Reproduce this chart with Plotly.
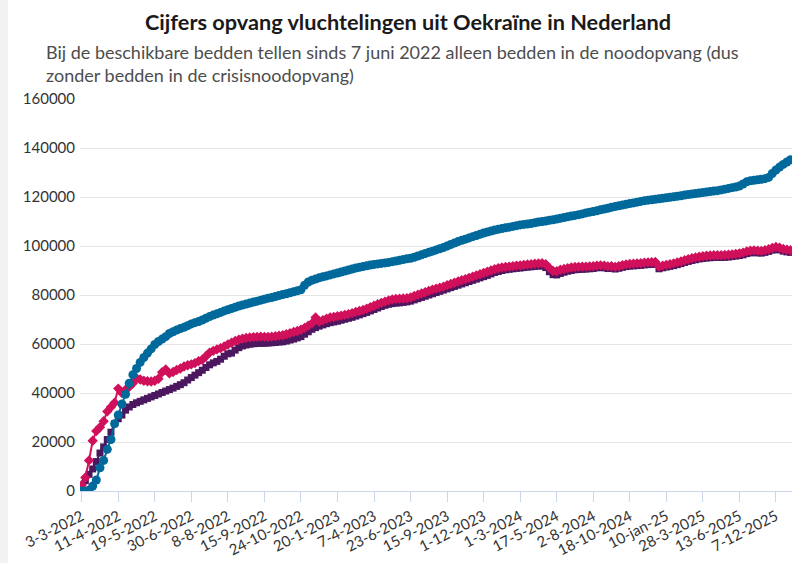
import plotly.graph_objects as go

tick_labels = ["3-3-2022", "11-4-2022", "19-5-2022", "30-6-2022", "8-8-2022", "15-9-2022",
               "24-10-2022", "20-1-2023", "7-4-2023", "23-6-2023", "15-9-2023", "1-12-2023",
               "1-3-2024", "17-5-2024", "2-8-2024", "18-10-2024", "10-jan-25", "28-3-2025",
               "13-6-2025", "7-12-2025"]
obs_per_label = 10

geregistreerd = [
    0, 0, 300, 2000, 4500, 9500, 12500, 17000, 21000, 27500,
    31000, 35500, 39500, 44000, 47500, 50000, 52500, 54500, 56300, 58000,
    59800, 61000, 62000, 63000, 64300, 65000, 65700, 66300, 66800, 67500,
    68200, 68700, 69200, 69800, 70500, 71200, 71800, 72300, 72900, 73500,
    74000, 74500, 75000, 75500, 75900, 76300, 76700, 77100, 77500, 77900,
    78300, 78700, 79000, 79400, 79800, 80200, 80500, 80900, 81300, 81700,
    82100, 84000, 85300, 86000, 86500, 87000, 87400, 87800, 88200, 88600,
    89000, 89400, 89800, 90200, 90600, 91000, 91300, 91600, 91900, 92200,
    92500, 92700, 92900, 93100, 93300, 93600, 93900, 94200, 94500, 94800,
    95000, 95400, 95900, 96400, 96900, 97400, 97900, 98400, 98900, 99400,
    100000, 100600, 101200, 101800, 102300, 102800, 103300, 103800, 104300, 104800,
    105300, 105700, 106100, 106500, 106800, 107100, 107400, 107700, 108000, 108300,
    108600, 108800, 109000, 109200, 109500, 109800, 110000, 110200, 110500, 110700,
    111000, 111300, 111600, 111900, 112200, 112500, 112800, 113100, 113500, 113800,
    114100, 114400, 114800, 115100, 115400, 115800, 116100, 116400, 116700, 117000,
    117300, 117600, 117900, 118200, 118500, 118700, 118900, 119100, 119300, 119500,
    119700, 119900, 120100, 120300, 120500, 120800, 121000, 121200, 121400, 121600,
    121800, 122000, 122200, 122400, 122600, 122900, 123200, 123500, 123800, 124100,
    124500, 125300, 126200, 126600, 126800, 127000, 127200, 127500, 128000, 129600,
    131000, 132200, 133300, 134300, 135200]

beschikbaar = [
    2500, 5500, 12500, 20500, 24500, 26000, 28500, 32500, 34300, 36000,
    41800, 40000, 41300, 42500, 44000, 46000, 45500, 45000, 44800, 44700,
    45000, 45800, 48500, 49600, 48000, 48600, 49400, 50000, 50800, 51300,
    51700, 52200, 53000, 53600, 55000, 56500, 57200, 57800, 58300, 59000,
    59800, 60500, 61200, 61800, 62200, 62500, 62700, 62800, 62900, 63000,
    62900, 62900, 63000, 63200, 63400, 63600, 64000, 64400, 64900, 65300,
    65800, 66600, 67500, 68400, 70800, 69200, 69700, 70300, 70800, 71000,
    71300, 71600, 71900, 72200, 72600, 73100, 73500, 73900, 74400, 75000,
    75600, 76200, 76800, 77300, 77800, 78200, 78400, 78500, 78600, 78700,
    79000, 79600, 80100, 80600, 81100, 81700, 82200, 82600, 83000, 83400,
    84000, 84500, 85000, 85500, 86000, 86500, 87000, 87500, 88000, 88500,
    89000, 89500, 90000, 90500, 90900, 91200, 91400, 91600, 91800, 92000,
    92100, 92300, 92500, 92600, 92800, 92900, 93000, 92600, 91000, 89800,
    89700, 90300, 90600, 90900, 91200, 91400, 91500, 91600, 91600, 91700,
    91800, 92000, 92100, 92000, 91700, 91800, 91500, 91800, 92200, 92500,
    92700, 92800, 92900, 93000, 93200, 93300, 93400, 93500, 91600, 92000,
    92300, 92600, 92900, 93300, 93700, 94200, 94600, 95000, 95300, 95600,
    95800, 96000, 96100, 96200, 96200, 96200, 96300, 96400, 96600, 96800,
    97000, 97300, 97800, 98100, 98200, 98100, 98000, 98300, 98700, 99200,
    99600, 99300, 98800, 98500, 98300]

bezet = [
    1500, 4200, 6800, 9000, 12000, 15500, 18000, 21000, 24000, 27500,
    29500, 31000, 33000, 34300, 35300, 36000, 36600, 37200, 37800, 38400,
    39000, 39600, 40200, 40800, 41400, 42000, 42700, 43400, 44200, 45300,
    46300, 47300, 48300, 49300, 50400, 51500, 52300, 52900, 53800, 55000,
    56000, 56300, 57500, 58500, 59200, 59600, 59900, 60100, 60200, 60300,
    60300, 60400, 60500, 60600, 60800, 60900, 61200, 61600, 62000, 62500,
    63000, 64000, 65000, 66000, 66700, 67300, 67800, 68300, 68700, 69000,
    69300, 69700, 70100, 70500, 70900, 71400, 71900, 72400, 72900, 73500,
    74100, 74700, 75300, 75800, 76200, 76500, 76700, 76800, 77000, 77200,
    77500, 78000, 78500, 79000, 79500, 80000, 80500, 81000, 81500, 82000,
    82500, 83000, 83500, 84000, 84500, 85000, 85500, 86000, 86500, 87000,
    87500, 88000, 88600, 89200, 89600, 90000, 90300, 90500, 90700, 90900,
    91000, 91200, 91400, 91500, 91700, 91800, 91900, 91200, 89500, 88300,
    88200, 88800, 89300, 89700, 90000, 90300, 90400, 90500, 90600, 90700,
    90800, 91100, 91200, 91100, 90800, 90900, 90600, 90900, 91300, 91600,
    91800, 91900, 92000, 92100, 92300, 92400, 92500, 92600, 90700, 91100,
    91400, 91700, 92000, 92400, 92800, 93300, 93700, 94100, 94400, 94700,
    94900, 95100, 95200, 95300, 95300, 95300, 95400, 95500, 95700, 95900,
    96100, 96400, 96900, 97200, 97300, 97200, 97100, 97400, 97800, 98300,
    98700, 98400, 97900, 97600, 97400]

obs = list(range(len(geregistreerd)))
tickvals = [i * obs_per_label for i in range(len(tick_labels))]

W, H = 792, 563
ML, MR, MT, MB = 80, 0, 99, 72
PW, PH = W - ML - MR, H - MT - MB

def px_x(x):
    return (x - ML) / PW

def px_y(y):
    return (H - MB - y) / PH

FONT = "Lato"

fig = go.Figure()
fig.add_trace(go.Scatter(x=obs, y=bezet, name="Bezette bedden", mode="lines+markers",
                         line=dict(color="#4b175f", width=2),
                         marker=dict(symbol="square", size=7, color="#4b175f")))
fig.add_trace(go.Scatter(x=obs, y=beschikbaar, name="Beschikbare bedden", mode="lines+markers",
                         line=dict(color="#d0105b", width=2),
                         marker=dict(symbol="diamond", size=8, color="#d0105b")))
fig.add_trace(go.Scatter(x=obs, y=geregistreerd, name="Geregistreerde vluchtelingen", mode="lines+markers",
                         line=dict(color="#00699b", width=2),
                         marker=dict(symbol="circle", size=9, color="#00699b")))

fig.update_layout(
    width=W, height=H,
    margin=dict(l=ML, r=MR, t=MT, b=MB, pad=0),
    paper_bgcolor="white", plot_bgcolor="white",
    showlegend=False,
    font=dict(family=FONT, size=15, color="#333333"),
    xaxis=dict(
        range=[-0.47, 194.4], tickmode="array", tickvals=tickvals, ticktext=tick_labels,
        tickangle=-27, showgrid=False, zeroline=False, showline=True, automargin=False,
        linecolor="#ccd6eb", linewidth=1, ticks="outside", ticklen=10,
        tickcolor="#ccd6eb", tickwidth=1, tickfont=dict(family=FONT, size=15, color="#333333"),
    ),
    yaxis=dict(
        range=[0, 160000], dtick=20000, tickformat="d", showgrid=True, automargin=False,
        gridcolor="#e6e6e6", gridwidth=1, zeroline=False, showline=False,
        ticks="", tickfont=dict(family=FONT, size=15, color="#333333"), ticklabelstandoff=4,
    ),
    shapes=[dict(type="rect", xref="paper", yref="paper",
                 x0=px_x(0), x1=px_x(8), y0=px_y(H), y1=px_y(0),
                 fillcolor="#f2f2f2", line=dict(width=0), layer="below")],
    annotations=[
        dict(text="<b>Cijfers opvang vluchtelingen uit Oekraïne in Nederland</b>",
             xref="paper", yref="paper", x=px_x(408), y=px_y(22),
             xanchor="center", yanchor="middle", showarrow=False,
             font=dict(family=FONT, size=21.7, color="#1a1a1a")),
        dict(text="Bij de beschikbare bedden tellen sinds 7 juni 2022 alleen bedden in de noodopvang (dus",
             xref="paper", yref="paper", x=px_x(44), y=px_y(52),
             xanchor="left", yanchor="middle", showarrow=False,
             font=dict(family=FONT, size=18, color="#4d4d4d")),
        dict(text="zonder bedden in de crisisnoodopvang)",
             xref="paper", yref="paper", x=px_x(44), y=px_y(75),
             xanchor="left", yanchor="middle", showarrow=False,
             font=dict(family=FONT, size=18, color="#4d4d4d")),
    ],
)

fig.write_html("out.html", config={"displayModeBar": False},
               post_script="document.body.style.margin='0';document.body.style.overflow='hidden';")
